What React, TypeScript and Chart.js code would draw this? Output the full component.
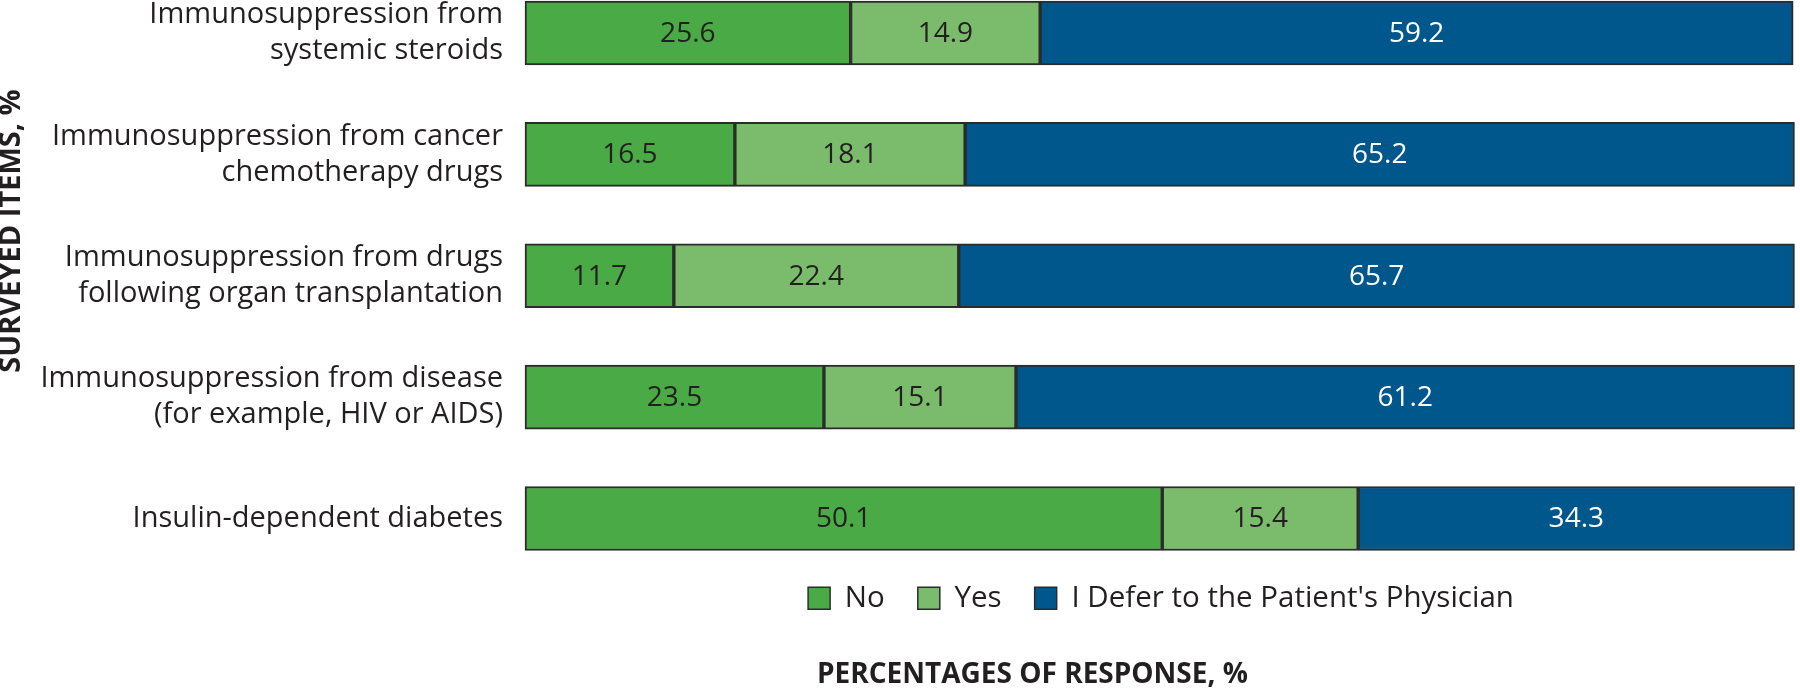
import React, { useEffect, useRef } from "react";
import { Chart, registerables } from "chart.js";

Chart.register(...registerables);

const categories: string[][] = [
  ["Immunosuppression from", "systemic steroids"],
  ["Immunosuppression from cancer", "chemotherapy drugs"],
  ["Immunosuppression from drugs", "following organ transplantation"],
  ["Immunosuppression from disease", "(for example, HIV or AIDS)"],
  ["Insulin-dependent diabetes"],
];
const seriesNames = ["No", "Yes", "I Defer to the Patient's Physician"];
const noValues = [25.6, 16.5, 11.7, 23.5, 50.1];
const yesValues = [14.9, 18.1, 22.4, 15.1, 15.4];
const deferValues = [59.2, 65.2, 65.7, 61.2, 34.3];
const yTitle = "SURVEYED ITEMS, %";
const xTitle = "PERCENTAGES OF RESPONSE, %";

const FONT = "'Open Sans', 'Noto Sans', sans-serif";
const TEXT = "#231f20";
const colors = ["#4aaa45", "#7bbb6c", "#00578c"];
const labelColors = [TEXT, TEXT, "#ffffff"];

const valueLabelPlugin = {
  id: "valueLabels",
  afterDatasetsDraw(chart: any) {
    const ctx = chart.ctx;
    ctx.save();
    ctx.font = `28px ${FONT}`;
    ctx.textAlign = "center";
    ctx.textBaseline = "middle";
    chart.data.datasets.forEach((ds: any, di: number) => {
      const meta = chart.getDatasetMeta(di);
      meta.data.forEach((el: any, i: number) => {
        const v = ds.data[i];
        ctx.fillStyle = labelColors[di];
        ctx.fillText(v.toFixed(1), (el.x + el.base) / 2, el.y + 1);
      });
    });
    ctx.restore();
  },
};

const titlesPlugin = {
  id: "titles",
  afterDraw(chart: any) {
    const ctx = chart.ctx;
    ctx.save();
    ctx.fillStyle = TEXT;
    ctx.font = `bold 29px ${FONT}`;
    ctx.textBaseline = "middle";
    ctx.textAlign = "center";
    ctx.translate(12, 231);
    ctx.rotate(-Math.PI / 2);
    ctx.fillText(yTitle, 0, 0);
    ctx.restore();

    ctx.save();
    ctx.fillStyle = TEXT;
    ctx.font = `bold 28px ${FONT}`;
    ctx.textBaseline = "middle";
    ctx.textAlign = "left";
    ctx.fillText(xTitle, 817, 675);
    ctx.restore();
  },
};

export default function App() {
  const ref = useRef<HTMLCanvasElement>(null);
  useEffect(() => {
    document.body.style.margin = "0";
    const values = [noValues, yesValues, deferValues];
    const chart = new Chart(ref.current!, {
      type: "bar",
      data: {
        labels: categories,
        datasets: seriesNames.map((name, i) => ({
          label: name,
          data: values[i],
          backgroundColor: colors[i],
          borderColor: "#2b2b2b",
          borderWidth: 2,
          borderSkipped: false,
          barThickness: 64,
          clip: false as any,
        })),
      },
      options: {
        indexAxis: "y",
        animation: false,
        responsive: false,
        maintainAspectRatio: false,
        layout: { padding: { top: 33, right: 3, left: 0, bottom: 66 } },
        scales: {
          x: {
            display: false,
            stacked: true,
            min: 0,
            max: 100,
          },
          y: {
            stacked: true,
            offset: false,
            grid: { display: false, drawTicks: false },
            border: { display: false },
            ticks: {
              padding: 22,
              color: TEXT,
              font: { family: FONT, size: 29, lineHeight: 1.24 },
            },
            afterFit(scale: any) {
              scale.width = 525;
              scale.paddingTop = 0;
              scale.paddingBottom = 0;
            },
          },
        },
        plugins: {
          legend: {
            position: "bottom",
            fullSize: false,
            align: "center",
            title: {
              display: true,
              text: " ",
              font: { size: 10, lineHeight: 1.2 },
              padding: 10,
            },
            labels: {
              boxWidth: 22,
              boxHeight: 22,
              padding: 33,
              color: TEXT,
              font: { family: FONT, size: 29.5 },
              generateLabels(chart: any) {
                return chart.data.datasets.map((ds: any, i: number) => ({
                  text: ds.label,
                  fillStyle: colors[i],
                  strokeStyle: "#2b2b2b",
                  fontColor: TEXT,
                  lineWidth: 1.5,
                  datasetIndex: i,
                  hidden: false,
                }));
              },
            },
          },
          tooltip: { enabled: false },
        },
      },
      plugins: [valueLabelPlugin, titlesPlugin],
    });
    return () => chart.destroy();
  }, []);
  return (
    <div style={{ width: 1800, height: 689 }}>
      <canvas ref={ref} width={1800} height={689} style={{ display: "block" }} />
    </div>
  );
}
